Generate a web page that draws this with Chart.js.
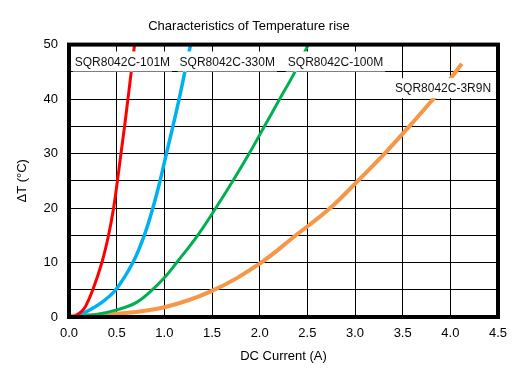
<!DOCTYPE html>
<html>
<head>
<meta charset="utf-8">
<script src="https://cdn.jsdelivr.net/npm/chart.js@4"></script>
<style>
  html, body { margin: 0; padding: 0; background: #fff; }
  canvas { display: block; }
</style>
</head>
<body>
<canvas id="tempRise" width="520" height="377"></canvas>
<script>
// ---- data ----
const seriesNames = ['SQR8042C-101M', 'SQR8042C-330M', 'SQR8042C-100M', 'SQR8042C-3R9N'];
const seriesColors = ['#ff0000', '#00b0f0', '#00b050', '#f79646'];
const seriesWidths = [3, 3.5, 3, 4];

const current101M = [0.05, 0.13, 0.175, 0.25, 0.345, 0.415, 0.468, 0.508, 0.545, 0.583, 0.618, 0.653, 0.688];
const rise101M    = [0, 1, 2, 5, 10, 15, 20, 25, 30, 35, 40, 45, 50];

const current330M = [0.05, 0.15, 0.33, 0.49, 0.67, 0.79, 0.88, 0.955, 1.022, 1.09, 1.155, 1.215, 1.275];
const rise330M    = [0, 0.7, 2.5, 5, 10, 15, 20, 25, 30, 35, 40, 45, 50];

const current100M = [0.05, 0.3, 0.5, 0.7, 0.85, 1.0, 1.13, 1.35, 1.54, 1.72, 1.89, 2.05, 2.21, 2.37, 2.51];
const rise100M    = [0, 0.5, 1.3, 2.6, 4.6, 7.2, 10, 15, 20, 25, 30, 35, 40, 45, 50];

const current3R9N = [0, 0.5, 1.0, 1.5, 2.0, 2.38, 2.74, 3.03, 3.31, 3.57, 3.82, 3.99, 4.12];
const rise3R9N    = [0.2, 0.6, 1.8, 4.8, 9.8, 15, 20, 25, 30, 35, 40, 43.5, 46.5];

// label anchors (left edge, middle) in data units
const labelX = [0.06, 1.16, 2.295, 3.42];
const labelY = [46.9, 46.9, 46.9, 42.0];

const FONT = "'Liberation Sans', Arial, sans-serif";

const currents = [current101M, current330M, current100M, current3R9N];
const rises = [rise101M, rise330M, rise100M, rise3R9N];

const datasets = seriesNames.map((name, i) => ({
    label: name,
    data: currents[i].map((c, k) => ({ x: c, y: rises[i][k] })),
    borderColor: seriesColors[i],
    backgroundColor: seriesColors[i],
    borderWidth: seriesWidths[i],
    pointRadius: 0,
    tension: 0.4,
    fill: false,
}));

// thick frame around the plot
const framePlugin = {
    id: 'frame',
    afterDatasetsDraw(chart) {
        const { ctx, chartArea: a } = chart;
        ctx.save();
        ctx.strokeStyle = '#000';
        ctx.lineWidth = 4;
        ctx.strokeRect(a.left, a.top, a.right - a.left, a.bottom - a.top);
        ctx.restore();
    }
};

// series names on white boxes
const seriesLabels = {
    id: 'seriesLabels',
    afterDraw(chart) {
        const { ctx, scales: { x, y } } = chart;
        ctx.save();
        ctx.font = '12px ' + FONT;
        ctx.textBaseline = 'middle';
        ctx.textAlign = 'left';
        seriesNames.forEach((name, i) => {
            const px = x.getPixelForValue(labelX[i]);
            const py = y.getPixelForValue(labelY[i]);
            const w = ctx.measureText(name).width;
            ctx.fillStyle = '#fff';
            ctx.fillRect(px - 2, py - 10, w + 4, 20);
            ctx.fillStyle = '#111';
            ctx.fillText(name, px, py + 1);
        });
        ctx.restore();
    }
};

new Chart(document.getElementById('tempRise'), {
    type: 'line',
    data: { datasets },
    options: {
        responsive: false,
        animation: false,
        layout: { padding: { left: 0, right: 22, top: 0, bottom: 0 } },
        plugins: {
            legend: { display: false },
            tooltip: { enabled: false },
            title: {
                display: true,
                text: 'Characteristics of Temperature rise',
                color: '#000',
                font: { family: FONT, size: 13, weight: 'normal' },
                padding: { top: 19, bottom: 10 },
            },
        },
        scales: {
            x: {
                type: 'linear',
                min: 0, max: 4.5,
                afterFit: s => { s.height = 60; },
                grid: { color: '#000', lineWidth: 1, drawTicks: false },
                border: { display: false },
                ticks: {
                    stepSize: 0.5,
                    padding: 9,
                    color: '#000',
                    font: { family: FONT, size: 13 },
                    callback: v => Number(v).toFixed(1),
                },
                title: {
                    display: true,
                    text: 'DC Current (A)',
                    color: '#000',
                    font: { family: FONT, size: 13 },
                    padding: { top: 0, bottom: 13 },
                },
            },
            y: {
                min: 0, max: 50,
                afterFit: s => { s.width = 69; },
                grid: { color: '#000', lineWidth: 1, drawTicks: false },
                border: { display: false },
                ticks: {
                    stepSize: 5,
                    padding: 11,
                    color: '#000',
                    font: { family: FONT, size: 13 },
                    callback: v => (v % 10 === 0 ? v : ''),
                },
                title: {
                    display: true,
                    text: 'ΔT (°C)',
                    color: '#000',
                    font: { family: FONT, size: 13 },
                    padding: { top: 15, bottom: 0 },
                },
            },
        },
    },
    plugins: [framePlugin, seriesLabels],
});
</script>
</body>
</html>
